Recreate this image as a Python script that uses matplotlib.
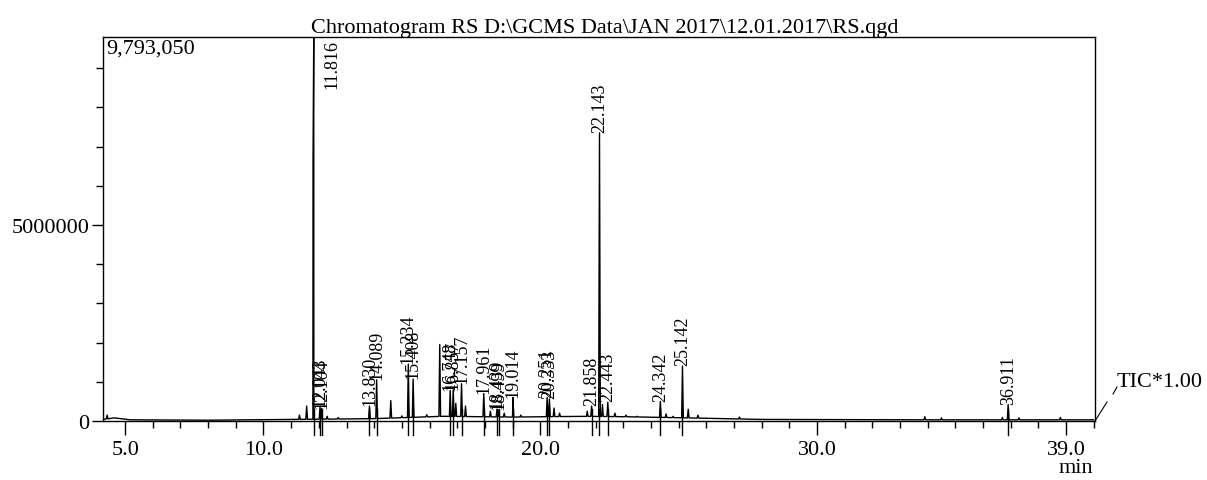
import numpy as np
import matplotlib
matplotlib.use('Agg')
import matplotlib.pyplot as plt
from matplotlib.ticker import MultipleLocator, FixedLocator

plt.rcParams['font.family'] = ['Liberation Serif', 'DejaVu Serif']

# labelled peaks (retention time, height, label)
peak_rt = [11.816, 12.043, 12.104, 13.830, 14.089, 15.234, 15.408, 16.748, 16.857,
           17.157, 17.961, 18.439, 18.499, 19.014, 20.251, 20.333, 21.858, 22.143,
           22.443, 24.342, 25.142, 36.911]
peak_h = [9793050, 350000, 320000, 380000, 1050000, 1450000, 1070000, 780000, 800000,
          950000, 700000, 300000, 280000, 600000, 600000, 560000, 380000, 7350000,
          480000, 500000, 1400000, 420000]
peak_lbl = ['11.816', '12.043', '12.104', '13.830', '14.089', '15.234', '15.408', '16.748',
            '16.857', '17.157', '17.961', '18.439', '18.499', '19.014', '20.251', '20.333',
            '21.858', '22.143', '22.443', '24.342', '25.142', '36.911']

# unlabelled bumps on the trace
minor_rt = [4.35, 11.30, 11.56, 11.79, 12.3, 12.7, 14.6, 15.0, 15.9, 16.37, 16.95, 17.3,
            18.2, 18.7, 19.3, 20.5, 20.7, 21.7, 22.25, 22.7, 23.1, 23.5, 24.55, 24.8,
            25.35, 25.7, 27.2, 33.9, 34.5, 36.7, 37.3, 38.8]
minor_h = [150000, 150000, 380000, 6600000, 120000, 90000, 520000, 130000, 160000, 1950000,
           450000, 380000, 250000, 200000, 150000, 330000, 200000, 250000, 420000, 200000,
           150000, 120000, 180000, 120000, 300000, 150000, 100000, 110000, 80000, 90000,
           80000, 90000]

# slowly varying baseline level
base_t = [4.2, 4.6, 5.2, 8.0, 11.0, 14.0, 16.5, 19.0, 21.5, 23.0, 26.0, 28.0, 33.0, 40.0]
base_y = [40000, 80000, 30000, 20000, 40000, 60000, 120000, 100000, 120000, 110000,
          70000, 40000, 30000, 30000]

xmin, xmax = 4.2, 40.05
ymax = 9793050

# build trace: narrow triangles on top of baseline
all_rt = np.array(peak_rt + minor_rt)
all_h = np.array(peak_h + minor_h)
order = np.argsort(all_rt)
tx, ty = [base_t[0]], [base_y[0]]
w = 0.03
for t, h in zip(all_rt[order], all_h[order]):
    b = np.interp(t, base_t, base_y)
    tx += [t - w, t, t + w]
    ty += [b, h, b]
for t, b in zip(base_t, base_y):
    tx.append(t)
    ty.append(b)
o = np.argsort(tx, kind='stable')
tx = np.array(tx)[o]
ty = np.array(ty)[o]

fig = plt.figure(figsize=(12.07, 4.81), dpi=100)
ax = fig.add_axes([103 / 1207, 59 / 481, 992 / 1207, 384 / 481])
ax.plot(tx, ty, color='black', lw=1.0)
ax.set_xlim(xmin, xmax)
ax.set_ylim(0, ymax)

# peak markers below baseline and labels
for t, h, s in zip(peak_rt, peak_h, peak_lbl):
    ax.plot([t, t], [-350000, 300000], color='black', lw=1.0, clip_on=False)
    if h >= ymax:
        ax.text(t + 0.65, ymax - 50000, s, rotation=90, ha='center', va='top', fontsize=13)
    else:
        ax.text(t, h + 20000, s, rotation=90, ha='center', va='bottom', fontsize=13)

ax.xaxis.set_major_locator(FixedLocator([5, 10, 20, 30, 39]))
ax.set_xticklabels(['5.0', '10.0', '20.0', '30.0', '39.0'])
ax.xaxis.set_minor_locator(MultipleLocator(1))
ax.yaxis.set_major_locator(FixedLocator([0, 5000000]))
ax.set_yticklabels(['0', '5000000'])
ax.yaxis.set_minor_locator(MultipleLocator(1000000))
ax.tick_params(axis='both', which='major', labelsize=16, direction='out', width=1)
ax.tick_params(axis='x', which='major', length=10, pad=4)
ax.tick_params(axis='x', which='minor', length=5, width=1)
ax.tick_params(axis='y', which='major', length=8, pad=2)
ax.tick_params(axis='y', which='minor', length=5, width=1)
for sp in ax.spines.values():
    sp.set_linewidth(1)

ax.text(0.003, 0.995, '9,793,050', transform=ax.transAxes, ha='left', va='top', fontsize=16)

fig.text(605 / 1207, 448 / 481, 'Chromatogram RS D:\\GCMS Data\\JAN 2017\\12.01.2017\\RS.qgd',
         ha='center', va='baseline', fontsize=16)
fig.add_artist(plt.Line2D([1095 / 1207, 1107 / 1207], [59 / 481, 78 / 481], color='black', lw=0.8))
fig.add_artist(plt.Line2D([1113 / 1207, 1117 / 1207], [86 / 481, 93 / 481], color='black', lw=0.8))
fig.text(1117 / 1207, 98 / 481, 'TIC*1.00', ha='left', va='center', fontsize=16)
fig.text(1076 / 1207, 12 / 481, 'min', ha='center', va='center', fontsize=16)

fig.savefig('out.png', dpi=100)
